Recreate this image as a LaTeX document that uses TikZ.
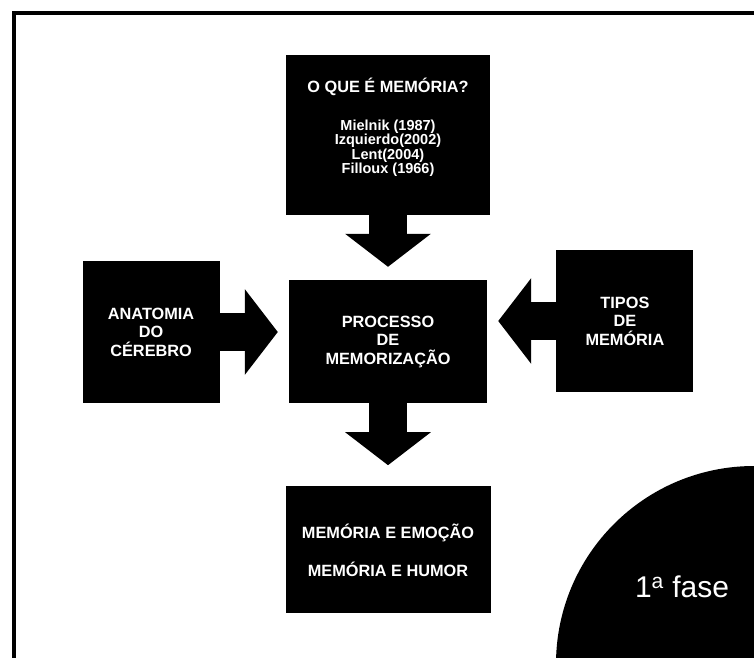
\documentclass[tikz,border=0pt]{standalone}
\usepackage{fontspec}
\setmainfont{Liberation Sans}
\usetikzlibrary{positioning, arrows.meta}

\begin{document}
\begin{tikzpicture}[
    x = 1pt, y = -1pt,
    box/.style = {fill = black, text = white, align = center, inner sep = 0pt,
                  font = \fontsize{16.3}{18.5}\selectfont\bfseries},
    blockarrow/.style = {line width = 38pt, -{Triangle[width = 84pt, length = 33pt]}}
]
\path[use as bounding box] (0,0) rectangle (754,657);
\clip (0,0) rectangle (754,657);

% Frame and corner disc
\draw[line width = 4.5pt] (14,13) rectangle (900,800);
\fill (754,664) circle (198pt);
\node[text = white, font = \fontsize{30}{30}\selectfont] (fase) at (682,587) {1\textsuperscript{a} fase};

% Boxes
\node[box, minimum width = 198pt, minimum height = 123pt] (proc) at (388,341.5)
    {PROCESSO\\DE\\MEMORIZAÇÃO};
\node[box, minimum width = 204pt, minimum height = 160pt, above = 65pt of proc] (oque) {};
\node[box, fill = none, font = \fontsize{14.5}{14.5}\selectfont\bfseries] (oquetxt)
    at ([yshift = 7pt]oque.center)
    {{\fontsize{16.3}{14.5}\selectfont O QUE É MEMÓRIA?}\\[23pt]
     Mielnik (1987)\\Izquierdo(2002)\\Lent(2004)\\Filloux (1966)};
\node[box, minimum width = 137pt, minimum height = 142pt, anchor = south east] (anat)
    at ([xshift = -69pt]proc.south west) {ANATOMIA\\DO\\CÉREBRO};
\node[box, minimum width = 137pt, minimum height = 142pt, anchor = north west] (tipos)
    at ([shift = {(69pt,30pt)}]proc.north east) {TIPOS\\DE\\MEMÓRIA};
\node[box, minimum width = 205pt, minimum height = 127pt, below = 83pt of proc] (memo)
    {MEMÓRIA E EMOÇÃO\\[19.5pt]MEMÓRIA E HUMOR};

% Arrows
\draw[blockarrow, shorten > = 13pt] (oque) -- (proc);
\draw[blockarrow, shorten > = 11pt] (anat) -- (anat -| proc.west);
\draw[blockarrow, shorten > = 11pt] (tipos) -- (tipos -| proc.east);
\draw[blockarrow, shorten > = 21pt] (proc) -- (memo);

\end{tikzpicture}
\end{document}
